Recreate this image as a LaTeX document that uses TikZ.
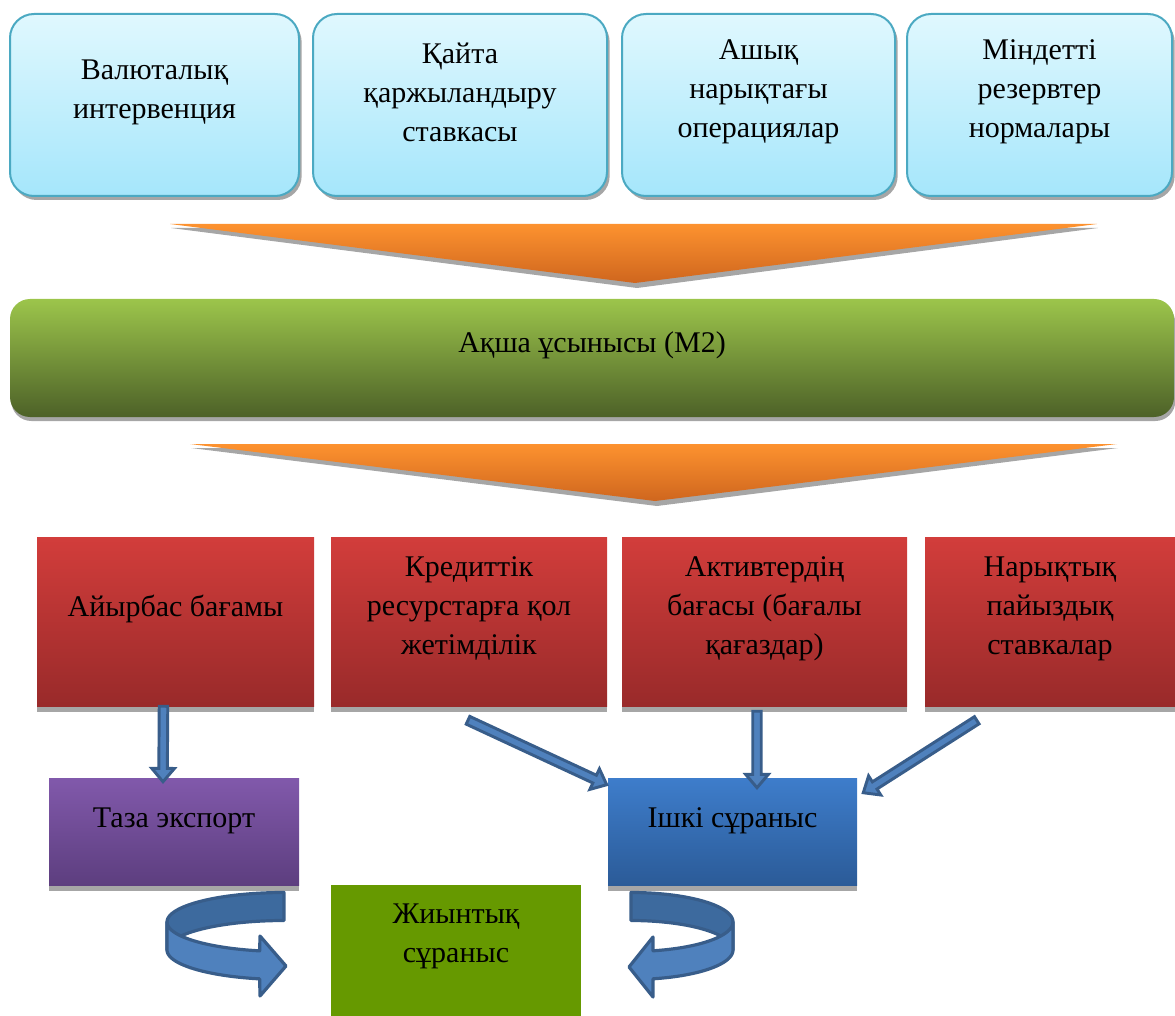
\documentclass[tikz,border=0pt]{standalone}
\usepackage{fontspec}
\setmainfont{Liberation Serif}
\usetikzlibrary{calc, positioning, fit, shadows}
\definecolor{colTopTop}{HTML}{E0F8FE}
\definecolor{colTopBottom}{HTML}{A5E6FB}
\definecolor{colTopStroke}{HTML}{4BA9C2}
\definecolor{colFunnelTop}{HTML}{FD922F}
\definecolor{colFunnelBottom}{HTML}{CF661E}
\definecolor{colBarTop}{HTML}{9CC54B}
\definecolor{colBarBottom}{HTML}{4D6128}
\definecolor{colRedTop}{HTML}{D23D3B}
\definecolor{colRedBottom}{HTML}{992A2A}
\definecolor{colPurpleTop}{HTML}{8159AB}
\definecolor{colPurpleBottom}{HTML}{5D3E7F}
\definecolor{colBlueTop}{HTML}{3E7DCB}
\definecolor{colBlueBottom}{HTML}{2B5B98}
\definecolor{colSum}{HTML}{669900}
\definecolor{colFlowFill}{HTML}{4F81BD}
\definecolor{colFlowBack}{HTML}{3D6A9E}
\definecolor{colFlowStroke}{HTML}{385D8A}
\definecolor{colShadow}{HTML}{A6A6A6}

\tikzset{
  boxtext/.style={align=center, inner sep=0pt, yshift=9.75pt},
  topbox/.style={rounded corners=18pt, draw=colTopStroke, line width=1.5pt,
    top color=colTopTop, bottom color=colTopBottom, inner sep=0pt,
    drop shadow={shadow xshift=2pt, shadow yshift=-3pt, fill=colShadow, opacity=1}},
  supplybar/.style={rounded corners=15pt, top color=colBarTop, bottom color=colBarBottom,
    inner sep=0pt,
    drop shadow={shadow xshift=1pt, shadow yshift=-3pt, fill=colShadow, opacity=1}},
  channel/.style={top color=colRedTop, bottom color=colRedBottom, inner sep=0pt,
    drop shadow={shadow xshift=0pt, shadow yshift=-4.5pt, fill=colShadow, opacity=1}},
  demandbox/.style={inner sep=0pt,
    drop shadow={shadow xshift=0pt, shadow yshift=-4.5pt, fill=colShadow, opacity=1}},
  funnel/.style={top color=colFunnelTop, bottom color=colFunnelBottom},
  blkarrow/.style={fill=colFlowFill, draw=colFlowStroke, line width=2.2pt, line join=miter},
  uturnback/.style={fill=colFlowBack, draw=colFlowStroke, line width=2.4pt, line join=round},
  uturnfront/.style={fill=colFlowFill, draw=colFlowStroke, line width=2.4pt, line join=round}
}

% block arrow from #1 to #2 (tip at #2)
\newcommand{\blockarrow}[2]{%
  \draw[blkarrow] let \p1=($(#2)-(#1)$), \n1={atan2(\y1,\x1)}, \n2={veclen(\x1,\y1)-10pt} in
    ($(#1)+(\n1+90:3.2pt)$) -- ($(#1)+(\n1:\n2)+(\n1+90:3.2pt)$)
    -- ($(#1)+(\n1:\n2)+(\n1+90:8.5pt)$) -- (#2)
    -- ($(#1)+(\n1:\n2)+(\n1-90:8.5pt)$) -- ($(#1)+(\n1:\n2)+(\n1-90:3.2pt)$)
    -- ($(#1)+(\n1-90:3.2pt)$) -- cycle;
}

\begin{document}
\begin{tikzpicture}[x=0.75pt, y=-0.75pt, font=\fontsize{22.5}{29.25}\selectfont]
  \useasboundingbox (0,0) rectangle (1175,1016);

  % Instruments
  \node[topbox, fit={(10,14) (299,196)}, label={[boxtext]center:{Валюталық\\интервенция}}] (fx) {};
  \node[topbox, fit={(313,14) (607,196)}, label={[boxtext]center:{Қайта\\қаржыландыру\\ставкасы}}] (refin) {};
  \node[topbox, fit={(622,14) (895,196)}, label={[boxtext]center:{Ашық\\нарықтағы\\операциялар}}] (openmkt) {};
  \node[topbox, fit={(907,14) (1172,196)}, label={[boxtext]center:{Міндетті\\резервтер\\нормалары}}] (reserve) {};

  % Funnel to money supply
  \fill[colShadow] (171,228) -- (1098,228) -- (637,288) -- cycle;
  \path[funnel] (170,224) -- (1097,224) -- (635,283) -- cycle;

  % Money supply
  \node[supplybar, fit={(10,299) (1174,417)}, label={[boxtext]center:{Ақша ұсынысы (М2)}}] (m2) {};

  % Funnel to channels
  \fill[colShadow] (191,448) -- (1118,448) -- (657,506) -- cycle;
  \path[funnel] (190,444) -- (1117,444) -- (655,501) -- cycle;

  % Transmission channels
  \node[channel, fit={(37,537) (314,706)}, label={[boxtext]center:{Айырбас бағамы}}] (rate) {};
  \node[channel, fit={(331,537) (607,706)}, label={[boxtext]center:{Кредиттік\\ресурстарға қол\\жетімділік}}] (credit) {};
  \node[channel, fit={(622,537) (907,706)}, label={[boxtext]center:{Активтердің\\бағасы (бағалы\\қағаздар)}}] (assets) {};
  \node[channel, fit={(925,537) (1175,706)}, label={[boxtext]center:{Нарықтық\\пайыздық\\ставкалар}}] (mktrate) {};

  % Demand components
  \node[demandbox, top color=colPurpleTop, bottom color=colPurpleBottom, fit={(49,778) (299,885)},
    label={[boxtext, yshift=-1.5pt]center:{Таза экспорт}}] (netexp) {};
  \node[demandbox, top color=colBlueTop, bottom color=colBlueBottom, fit={(608,778) (857,885)},
    label={[boxtext, yshift=-1.5pt]center:{Ішкі сұраныс}}] (domdem) {};
  \node[fill=colSum, inner sep=0pt, fit={(331,885) (581,1016)},
    label={[boxtext, yshift=1pt]center:{Жиынтық\\сұраныс}}] (aggdem) {};

  % Channel arrows
  \coordinate (a1s) at ($(rate.south)+(-12,0)$);
  \coordinate (a2s) at ($(credit.south)+(-1,14)$);
  \coordinate (a3s) at ($(assets.south)+(-7.5,5)$);
  \coordinate (a4s) at ($(mktrate.south west)+(52,14)$);
  \blockarrow{a1s}{$(netexp.north)+(-11,4)$}
  \blockarrow{a2s}{$(domdem.north west)+(-1,7)$}
  \blockarrow{a3s}{$(domdem.north)+(24.5,10)$}
  \blockarrow{a4s}{$(domdem.north east)+(6,15)$}

  % U-turn arrows into aggregate demand
  \filldraw[uturnback] plot[domain=90:180, samples=40] ({284+117*cos(\x)},{922-29.5*sin(\x)})
    -- plot[domain=180:90, samples=40] ({284+117*cos(\x)},{950-29.5*sin(\x)}) -- cycle;
  \filldraw[uturnfront] plot[domain=180:258, samples=40] ({284+117*cos(\x)},{922-29.5*sin(\x)})
    -- (260,936) -- (286,966) -- (260,996)
    -- plot[domain=258:180, samples=40] ({284+117*cos(\x)},{950-29.5*sin(\x)}) -- cycle;

  \filldraw[uturnback] plot[domain=90:180, samples=40] ({631-102*cos(\x)},{922-29.5*sin(\x)})
    -- plot[domain=180:90, samples=40] ({631-102*cos(\x)},{950-29.5*sin(\x)}) -- cycle;
  \filldraw[uturnfront] plot[domain=180:257.5, samples=40] ({631-102*cos(\x)},{922-29.5*sin(\x)})
    -- (653,937) -- (629,967) -- (653,997)
    -- plot[domain=257.5:180, samples=40] ({631-102*cos(\x)},{950-29.5*sin(\x)}) -- cycle;
\end{tikzpicture}
\end{document}
